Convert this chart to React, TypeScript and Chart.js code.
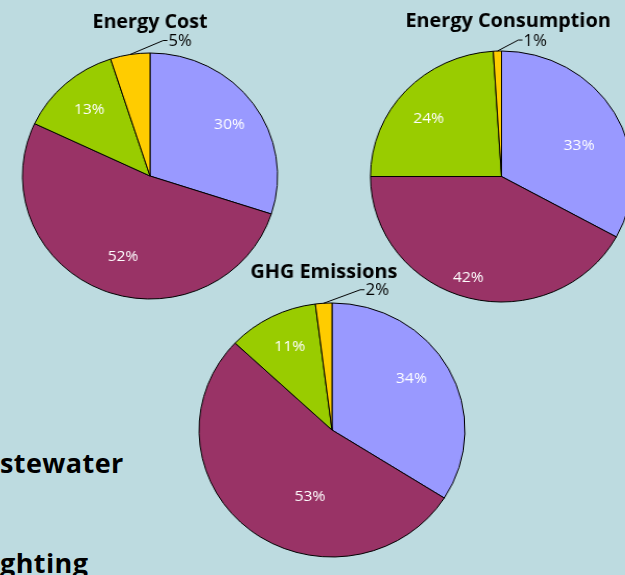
import React, { useEffect, useRef } from 'react';
import { Chart, registerables } from 'chart.js';

Chart.register(...registerables);

// ---- data ----
const SLICE_NAMES = ['Segment A', 'Segment B', 'Segment C', 'Segment D'];
const ENERGY_COST = [30, 52, 13, 5];
const ENERGY_CONSUMPTION = [33, 42, 24, 1];
const GHG_EMISSIONS = [34, 53, 11, 2];
const PIE_TITLES = ['Energy Cost', 'Energy Consumption', 'GHG Emissions'];
const SIDE_LABELS = ['stewater', 'ghting'];

// ---- style ----
const SLICE_COLORS = ['#9999FF', '#993366', '#99CC00', '#FFCC00'];
const BG = '#BDDBE0';
const FONT = '"Open Sans", Lato, sans-serif';

type PieLayout = {
  cx: number;
  cy: number;
  r: number;
  sx: number;
  titleDx: number;
  titleGap: number;
  elbow: [number, number];
  calloutIndex: number;
  labelAt: ([number, number] | null)[];
};

const LAYOUTS: PieLayout[] = [
  { cx: 150, cy: 176, r: 123, sx: 1.037, titleDx: 0, titleGap: 25, elbow: [32, -14], calloutIndex: 3,
    labelAt: [[0.52, 0.75], [0.48, 0.69], [0.5, 0.72], null] },
  { cx: 501.5, cy: 176, r: 125.5, sx: 1.044, titleDx: 6.3, titleGap: 24, elbow: [20, -11], calloutIndex: 3,
    labelAt: [[0.57, 0.64], [0.52, 0.845], [0.456, 0.72], null] },
  { cx: 332, cy: 430, r: 127, sx: 1.047, titleDx: -7.8, titleGap: 25, elbow: [35, -13.5], calloutIndex: 3,
    labelAt: [[0.457, 0.72], [0.394, 0.55], [0.53, 0.73], null] },
];

const PAD = { left: 12, right: 12, top: 52, bottom: 12 };

const decorPlugin = {
  id: 'pieDecor',
  afterDatasetsDraw(chart: any, _args: any, opts: any) {
    const { ctx } = chart;
    const meta = chart.getDatasetMeta(0);
    const values: number[] = chart.data.datasets[0].data;
    const layout: PieLayout = opts.layout;
    let cx = 0, cy = 0, R = 0;
    ctx.save();
    meta.data.forEach((arc: any, i: number) => {
      const p = arc.getProps(['x', 'y', 'startAngle', 'endAngle', 'outerRadius'], true);
      cx = p.x; cy = p.y; R = p.outerRadius;
      const text = `${values[i]}%`;
      if (i === layout.calloutIndex) {
        const a = (p.startAngle + p.endAngle) / 2;
        const x0 = p.x + Math.cos(a) * R;
        const y0 = p.y + Math.sin(a) * R;
        const x1 = x0 + layout.elbow[0];
        const y1 = y0 + layout.elbow[1];
        const x2 = x1 + 4;
        ctx.strokeStyle = '#000';
        ctx.lineWidth = 1;
        ctx.beginPath();
        ctx.moveTo(x0, y0);
        ctx.lineTo(x1, y1);
        ctx.lineTo(x2, y1);
        ctx.stroke();
        ctx.fillStyle = '#000';
        ctx.font = `16px ${FONT}`;
        ctx.textAlign = 'left';
        ctx.textBaseline = 'middle';
        ctx.fillText(text, x2 + 1, y1 + 1);
      } else {
        const [f, rf] = layout.labelAt[i] || [0.5, 0.72];
        const a = p.startAngle + (p.endAngle - p.startAngle) * f;
        ctx.fillStyle = '#FFFFFF';
        ctx.font = `15px ${FONT}`;
        ctx.textAlign = 'center';
        ctx.textBaseline = 'middle';
        ctx.fillText(text, p.x + Math.cos(a) * R * rf, p.y + Math.sin(a) * R * rf);
      }
    });
    ctx.fillStyle = '#000';
    ctx.font = `bold 19px ${FONT}`;
    ctx.textAlign = 'center';
    ctx.textBaseline = 'alphabetic';
    ctx.fillText(opts.title, cx + layout.titleDx, cy - R - layout.titleGap);
    ctx.restore();
  },
};

function PieChart({ values, title, layout }: { values: number[]; title: string; layout: PieLayout }) {
  const ref = useRef<HTMLCanvasElement>(null);
  const W = Math.round(2 * layout.r + PAD.left + PAD.right);
  const H = Math.round(2 * layout.r + PAD.top + PAD.bottom);
  useEffect(() => {
    const chart = new Chart(ref.current as HTMLCanvasElement, {
      type: 'pie',
      data: {
        labels: SLICE_NAMES,
        datasets: [
          {
            data: values,
            backgroundColor: SLICE_COLORS,
            borderColor: '#000000',
            borderWidth: 1,
            radius: layout.r,
          } as any,
        ],
      },
      options: {
        responsive: false,
        animation: false,
        events: [],
        layout: { padding: PAD },
        plugins: {
          legend: { display: false },
          tooltip: { enabled: false },
          title: { display: false },
          pieDecor: { title, layout },
        } as any,
      },
      plugins: [decorPlugin],
    });
    return () => chart.destroy();
  }, []);
  const originX = W / 2;
  const originY = PAD.top + (H - PAD.top - PAD.bottom) / 2;
  return (
    <div
      style={{
        position: 'absolute',
        left: layout.cx - originX,
        top: layout.cy - originY,
        width: W,
        height: H,
        transform: `scaleX(${layout.sx})`,
        transformOrigin: `${originX}px ${originY}px`,
      }}
    >
      <canvas ref={ref} width={W} height={H} style={{ display: 'block' }} />
    </div>
  );
}

const sideStyle = (top: number): React.CSSProperties => ({
  position: 'absolute',
  left: 0,
  top,
  font: `bold 27px "Open Sans", sans-serif`,
  lineHeight: '27px',
  letterSpacing: '0.4px',
  color: '#000',
  whiteSpace: 'nowrap',
});

export default function App() {
  const series = [ENERGY_COST, ENERGY_CONSUMPTION, GHG_EMISSIONS];
  return (
    <div
      style={{
        position: 'absolute',
        left: 0,
        top: 0,
        width: 625,
        height: 575,
        overflow: 'hidden',
        background: BG,
      }}
    >
      <div style={sideStyle(449)}>{SIDE_LABELS[0]}</div>
      <div style={sideStyle(549)}>{SIDE_LABELS[1]}</div>
      {series.map((vals, i) => (
        <PieChart key={i} values={vals} title={PIE_TITLES[i]} layout={LAYOUTS[i]} />
      ))}
    </div>
  );
}
